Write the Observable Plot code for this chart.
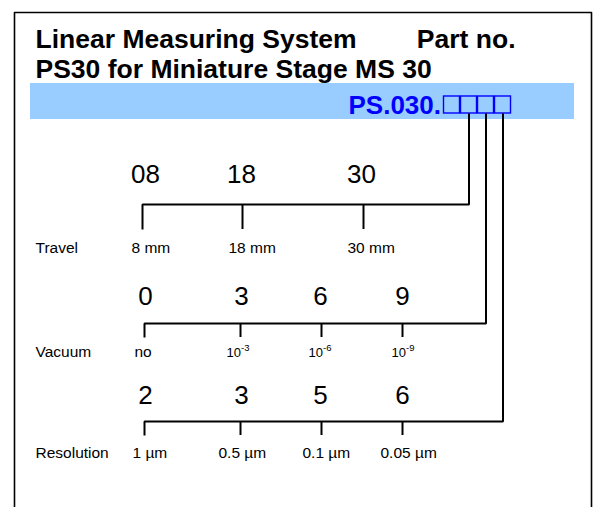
<!DOCTYPE html>
<html><head><meta charset="utf-8">
<script src="https://cdn.jsdelivr.net/npm/d3@7"></script>
<script src="https://cdn.jsdelivr.net/npm/@observablehq/plot@0.6"></script>
<style>html,body{margin:0;padding:0;background:#fff}svg{display:block}</style>
</head><body><div id="chart"></div>
<script>
// ---- content ----
const titleLines = ["Linear Measuring System", "PS30 for Miniature Stage MS 30"];
const partLabel = "Part no.";
const partPrefix = "PS.030.";
const codeSlots = [1, 2, 3, 4];
const rowNames = ["Travel", "Vacuum", "Resolution"];
const travelCodes = ["08", "18", "30"];
const travelLabels = ["8 mm", "18 mm", "30 mm"];
const vacuumCodes = ["0", "3", "6", "9"];
const vacuumLabels = ["no", "10", "10", "10"];
const vacuumExponents = ["", "-3", "-6", "-9"];
const resolutionCodes = ["2", "3", "5", "6"];
const resolutionLabels = ["1 µm", "0.5 µm", "0.1 µm", "0.05 µm"];

// ---- layout (pixel units of the diagram) ----
const W = 597, H = 507;
const font = "Liberation Sans, Arial, Helvetica, sans-serif";
const frame = {x1: 14, x2: 591, y1: 12};
const band = {x1: 30, x2: 574, y1: 83, y2: 119};
const titleX = 35, titleY = [47, 77], partX2 = 515;
const prefixX = 348, prefixY = 113;
const box = {x0: 443, w: 17, y1: 96, y2: 113};
const nameX = 35;
const rowLayout = [
  {codes: travelCodes, labels: travelLabels, exps: null, slot: 2,
   codeY: 182, lineY: 204, tickY: 229, labelY: 252,
   ticks: [142, 242, 363], codeX: [145, 241, 361], labelX: [131, 228, 347]},
  {codes: vacuumCodes, labels: vacuumLabels, exps: vacuumExponents, slot: 3,
   codeY: 304, lineY: 323, tickY: 337, labelY: 356,
   ticks: [144, 240, 321, 402], codeX: [145, 241, 320, 402], labelX: [134, 226, 308, 391]},
  {codes: resolutionCodes, labels: resolutionLabels, exps: null, slot: 4,
   codeY: 403, lineY: 421, tickY: 435, labelY: 457,
   ticks: [144, 240, 321, 402], codeX: [145, 241, 320, 402], labelX: [132, 218, 302, 380]}
];

// ---- derived tables ----
const boxes = codeSlots.map((s, i) => ({x1: box.x0 + i * box.w + 0.5, x2: box.x0 + (i + 1) * box.w - 0.5, y1: box.y1, y2: box.y2, s}));
const slotCenter = s => box.x0 + (s - 0.5) * box.w;
const codeText = [], labelText = [], expText = [], tickRules = [], brackets = [], names = [];
rowLayout.forEach((r, ri) => {
  names.push({x: nameX, y: r.labelY, text: rowNames[ri]});
  r.codes.forEach((c, i) => codeText.push({x: r.codeX[i], y: r.codeY, text: c}));
  r.labels.forEach((l, i) => {
    const isExp = r.exps && r.exps[i];
    labelText.push({x: r.labelX[i], y: r.labelY, text: l, small: !!isExp});
    if (isExp) expText.push({x: r.labelX[i] + 14.5, y: r.labelY - 6, text: r.exps[i]});
  });
  r.ticks.slice(1).forEach(t => tickRules.push({x: t, y1: r.lineY, y2: r.tickY}));
  const cx = slotCenter(r.slot);
  [[r.ticks[0], r.tickY], [r.ticks[0], r.lineY], [cx, r.lineY], [cx, box.y2]]
    .forEach(([x, y]) => brackets.push({x, y, row: ri}));
});
const framePath = [{x: frame.x1, y: H + 5}, {x: frame.x1, y: frame.y1}, {x: frame.x2, y: frame.y1}, {x: frame.x2, y: H + 5}];

const chart = Plot.plot({
  width: W, height: H,
  margin: 0,
  x: {domain: [0, W], range: [0, W], axis: null},
  y: {domain: [0, H], range: [0, H], axis: null},
  style: {fontFamily: font, background: "#fff"},
  marks: [
    Plot.rect([band], {x1: "x1", x2: "x2", y1: "y1", y2: "y2", fill: "#99ccff"}),
    Plot.line(framePath, {x: "x", y: "y", stroke: "#000", strokeWidth: 1.6, clip: true}),
    Plot.text(titleLines.map((t, i) => ({x: titleX, y: titleY[i], text: t})), {
      x: "x", y: "y", text: "text", textAnchor: "start", lineAnchor: "bottom",
      fontSize: 26.5, fontWeight: "bold", fill: "#000", fontFamily: font}),
    Plot.text([{x: partX2, y: titleY[0], text: partLabel}], {
      x: "x", y: "y", text: "text", textAnchor: "end", lineAnchor: "bottom",
      fontSize: 26.5, fontWeight: "bold", fill: "#000", fontFamily: font}),
    Plot.text([{x: prefixX, y: prefixY, text: partPrefix}], {
      x: "x", y: "y", text: "text", textAnchor: "start", lineAnchor: "bottom",
      fontSize: 26, fontWeight: "bold", fill: "#0000ff", fontFamily: font}),
    Plot.rect(boxes, {x1: "x1", x2: "x2", y1: "y1", y2: "y2", fill: "none", stroke: "#0000ff", strokeWidth: 1.4}),
    Plot.line(brackets, {x: "x", y: "y", z: "row", stroke: "#000", strokeWidth: 2, strokeLinejoin: "miter", strokeLinecap: "butt"}),
    Plot.ruleX(tickRules, {x: "x", y1: "y1", y2: "y2", stroke: "#000", strokeWidth: 2}),
    Plot.text(codeText, {x: "x", y: "y", text: "text", textAnchor: "middle", lineAnchor: "bottom",
      fontSize: 26, fill: "#000", fontFamily: font}),
    Plot.text(names, {x: "x", y: "y", text: "text", textAnchor: "start", lineAnchor: "bottom",
      fontSize: 15.5, fill: "#000", fontFamily: font}),
    Plot.text(labelText, {x: "x", y: "y", text: "text", textAnchor: "start", lineAnchor: "bottom",
      fontSize: d => d.small ? 13 : 15.5, fill: "#000", fontFamily: font}),
    Plot.text(expText, {x: "x", y: "y", text: "text", textAnchor: "start", lineAnchor: "bottom",
      fontSize: 9.5, fill: "#000", fontFamily: font})
  ]
});
document.getElementById("chart").appendChild(chart);
</script>
</body></html>
